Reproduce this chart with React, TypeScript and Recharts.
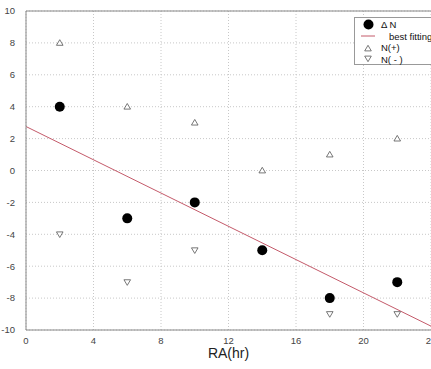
import { ScatterChart, Scatter, XAxis, YAxis, CartesianGrid, ReferenceLine } from 'recharts';

const raHours = [2, 6, 10, 14, 18, 22];
const deltaN = [4, -3, -2, -5, -8, -7];
const nPlus = [8, 4, 3, 0, 1, 2];
const nMinus = [-4, -7, -5, -5, -9, -9];
const xTicks = [0, 4, 8, 12, 16, 20, 24];
const yTicks = [-10, -8, -6, -4, -2, 0, 2, 4, 6, 8, 10];

const deltaData = raHours.map((x, i) => ({ x, y: deltaN[i] }));
const plusData = raHours.map((x, i) => ({ x, y: nPlus[i] }));
const minusData = raHours.map((x, i) => ({ x, y: nMinus[i] }));

// least squares fit of delta N against RA
const mx = raHours.reduce((a, b) => a + b, 0) / raHours.length;
const my = deltaN.reduce((a, b) => a + b, 0) / deltaN.length;
let sxy = 0;
let sxx = 0;
raHours.forEach((x, i) => {
  sxy += (x - mx) * (deltaN[i] - my);
  sxx += (x - mx) * (x - mx);
});
const slope = sxy / sxx;
const intercept = my - slope * mx;
const fitLine = [
  { x: 0, y: intercept },
  { x: 24, y: intercept + slope * 24 },
];

const font = '"Liberation Sans", Arial, sans-serif';

const Dot = (props: any) => <circle cx={props.cx} cy={props.cy} r={5} fill="#000" />;
const UpTri = (props: any) => {
  const { cx, cy } = props;
  return (
    <path
      d={`M${cx},${cy - 3.2} L${cx - 3.3},${cy + 2.4} L${cx + 3.3},${cy + 2.4} Z`}
      fill="#fff"
      stroke="#555"
      strokeWidth={0.8}
    />
  );
};
const DownTri = (props: any) => {
  const { cx, cy } = props;
  return (
    <path
      d={`M${cx},${cy + 3.2} L${cx - 3.3},${cy - 2.4} L${cx + 3.3},${cy - 2.4} Z`}
      fill="#fff"
      stroke="#555"
      strokeWidth={0.8}
    />
  );
};

function LegendBox() {
  const row = { display: 'flex', alignItems: 'center', height: 11.5 };
  const icon = { width: 26, display: 'flex', justifyContent: 'center' };
  return (
    <div
      style={{
        position: 'absolute',
        left: 354,
        top: 17,
        border: '1px solid #999',
        background: '#fff',
        width: 90,
        height: 48,
        padding: '1px 0 0 0',
        fontFamily: font,
        fontSize: 9.5,
        color: '#111',
        boxSizing: 'border-box',
      }}
    >
      <div style={row}>
        <div style={icon}>
          <svg width={11} height={11}><circle cx={5.5} cy={5.5} r={5} fill="#000" /></svg>
        </div>
        <span>Δ N</span>
      </div>
      <div style={row}>
        <div style={icon}>
          <svg width={16} height={4}><line x1={1} y1={2} x2={15} y2={2} stroke="#c45a6a" strokeWidth={1} /></svg>
        </div>
        <span style={{ marginLeft: 8 }}>best fitting</span>
      </div>
      <div style={row}>
        <div style={icon}>
          <svg width={10} height={10}><UpTri cx={5} cy={5.5} /></svg>
        </div>
        <span>N(+)</span>
      </div>
      <div style={row}>
        <div style={icon}>
          <svg width={10} height={10}><DownTri cx={5} cy={4.5} /></svg>
        </div>
        <span>N( - )</span>
      </div>
    </div>
  );
}

export default function App() {
  return (
    <div style={{ position: 'absolute', left: 0, top: 0, width: 431, height: 369, overflow: 'hidden', background: '#fff' }}>
      <ScatterChart width={440} height={369} margin={{ top: 11, right: 9, bottom: 0, left: 0 }}>
        <CartesianGrid stroke="#c8c8c8" strokeDasharray="1 2" />
        <XAxis
          type="number"
          dataKey="x"
          domain={[0, 24]}
          ticks={xTicks}
          allowDataOverflow
          height={39}
          stroke="#888"
          tickLine={false}
          tickMargin={1}
          tick={{ fontSize: 9.5, fill: '#444', fontFamily: font }}
          label={{ value: 'RA(hr)', position: 'insideBottom', offset: 11, fontSize: 14, fill: '#222', fontFamily: font }}
        />
        <YAxis
          type="number"
          dataKey="y"
          domain={[-10, 10]}
          ticks={yTicks}
          allowDataOverflow
          width={26}
          stroke="#888"
          tickLine={false}
          tickMargin={5}
          tick={{ fontSize: 9.5, fill: '#444', fontFamily: font }}
        />
        <ReferenceLine y={10} stroke="#888" />
        <ReferenceLine segment={fitLine} stroke="#c45a6a" strokeWidth={1} />
        <Scatter name="N(+)" data={plusData} shape={UpTri} isAnimationActive={false} />
        <Scatter name="N(-)" data={minusData} shape={DownTri} isAnimationActive={false} />
        <Scatter name="Δ N" data={deltaData} shape={Dot} isAnimationActive={false} />
      </ScatterChart>
      <LegendBox />
    </div>
  );
}
